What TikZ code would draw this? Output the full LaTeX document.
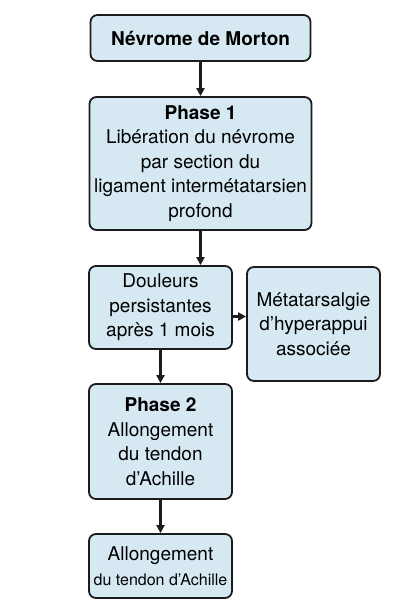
\documentclass[tikz,border=0pt]{standalone}
\usepackage{fontspec}
\setmainfont{TeX Gyre Heros}
\usetikzlibrary{arrows.meta}
\definecolor{boxblue}{HTML}{D6E9F3}
\definecolor{boxline}{HTML}{1C1C1C}
\begin{document}
\begin{tikzpicture}[x=1pt,y=-1pt,
    box/.style={rectangle,rounded corners=7pt,draw=boxline,line width=1.8pt,fill=boxblue,
        align=center,inner sep=0pt,font=\fontsize{19}{24.5}\selectfont},
    arr/.style={-{Triangle[length=8pt,width=8pt]},line width=2.2pt,draw=boxline}]
    \useasboundingbox[fill=white] (0,0) rectangle (400,600);
    % boxes
    \node[box,minimum width=220pt,minimum height=46pt]  (morton) at (200.5,38)    {\textbf{Névrome de Morton}};
    \node[box,minimum width=222pt,minimum height=133pt] (phase1) at (200.5,163.5) {\textbf{Phase 1}\\Libération du névrome\\par section du\\ligament intermétatarsien\\profond};
    \node[box,minimum width=143pt,minimum height=83pt]  (douleur) at (160.5,307.5) {Douleurs\\persistantes\\après 1 mois};
    \node[box,minimum width=133pt,minimum height=114pt] (metat) at (313.5,324) {Métatarsalgie\\d’hyperappui\\associée};
    \node[box,minimum width=143pt,minimum height=115pt] (phase2) at (160.5,441.5) {\textbf{Phase 2}\\Allongement\\du tendon\\d’Achille};
    \node[box,minimum width=143pt,minimum height=64pt]  (achille) at (160.5,566) {Allongement\\{\fontsize{16}{20}\selectfont du tendon d’Achille}};
    % arrows
    \draw[arr] (morton) -- (phase1);
    \draw[arr] (phase1.south) -- (phase1.south |- douleur.north);
    \draw[arr] ([yshift=-9pt]douleur.east) -- ([yshift=-9pt]douleur.east -| metat.west);
    \draw[arr] (douleur) -- (phase2);
    \draw[arr] (phase2) -- (achille);
\end{tikzpicture}
\end{document}
